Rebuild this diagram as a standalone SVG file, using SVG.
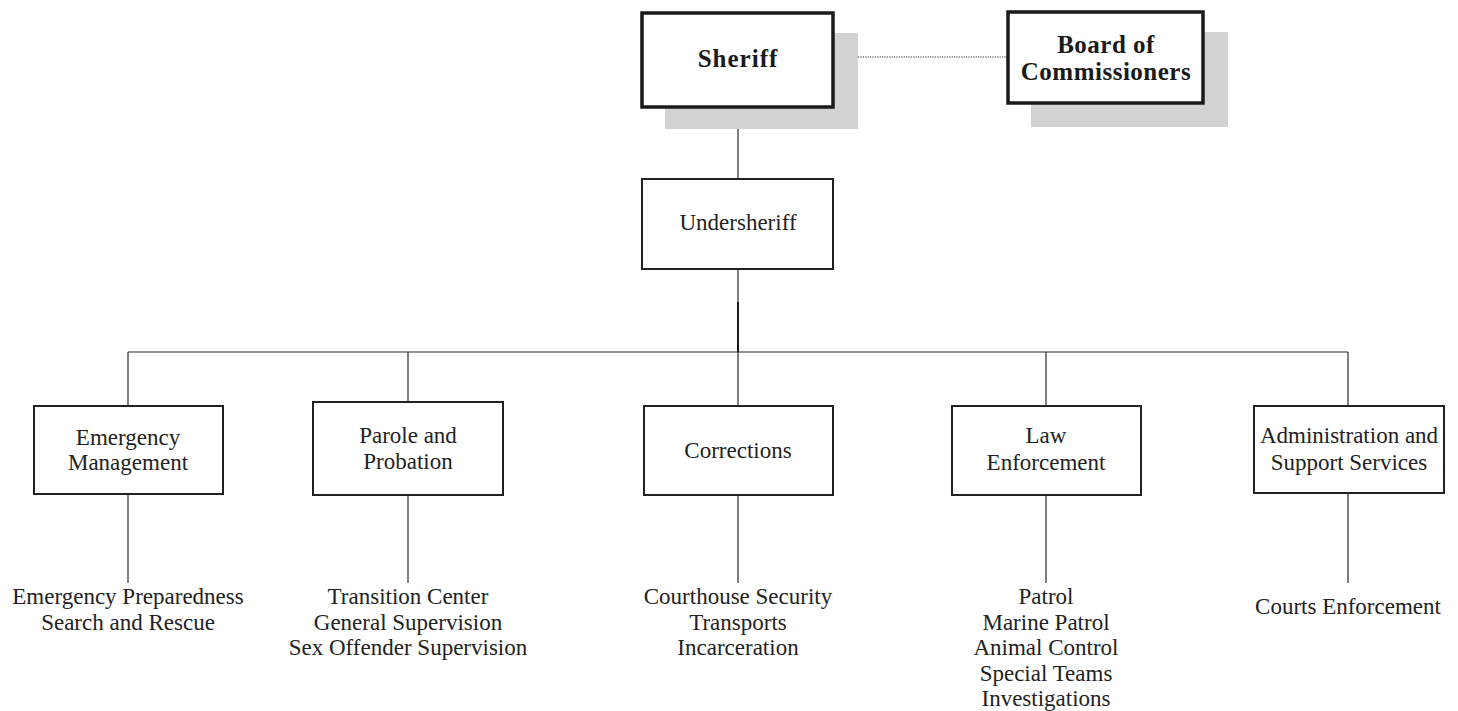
<svg xmlns="http://www.w3.org/2000/svg" width="1458" height="711" viewBox="0 0 1458 711">
<style>
.shadow{fill:#d1d2d4;stroke:none}
.top{fill:#fff;stroke:#1a1a1a;stroke-width:3.5}
.box{fill:#fff;stroke:#222;stroke-width:2}
.ln{stroke:#2a2a2a;stroke-width:1.2;fill:none}
.tb{font-family:"Liberation Serif","Times New Roman",serif;font-weight:bold;font-size:25px;fill:#1a1a1a;text-anchor:middle}
.t{font-family:"Liberation Serif","Times New Roman",serif;font-size:23px;fill:#222;text-anchor:middle}
</style>
<rect width="1458" height="711" fill="#fff"/>
<g id="connectors">
<line class="ln" x1="858" y1="57" x2="1008" y2="57" stroke-dasharray="1.2 1.2"/>
<line class="ln" x1="738" y1="107" x2="738" y2="179"/>
<line class="ln" x1="738" y1="269" x2="738" y2="302"/>
<line x1="738" y1="302" x2="738" y2="352" stroke="#1a1a1a" stroke-width="2"/>
<line class="ln" x1="128" y1="352" x2="1348" y2="352"/>
<line class="ln" x1="128" y1="352" x2="128" y2="406"/>
<line class="ln" x1="408" y1="352" x2="408" y2="402"/>
<line class="ln" x1="738" y1="352" x2="738" y2="406"/>
<line class="ln" x1="1046" y1="352" x2="1046" y2="406"/>
<line class="ln" x1="1348" y1="352" x2="1348" y2="406"/>
<line class="ln" x1="128" y1="494" x2="128" y2="583"/>
<line class="ln" x1="408" y1="495" x2="408" y2="583"/>
<line class="ln" x1="738" y1="495" x2="738" y2="583"/>
<line class="ln" x1="1046" y1="495" x2="1046" y2="583"/>
<line class="ln" x1="1348" y1="493" x2="1348" y2="583"/>
</g>
<g id="sheriff">
<rect class="shadow" x="665" y="33" width="193" height="96"/>
<rect class="top" x="642" y="13" width="191" height="94"/>
<text class="tb" x="738" y="67" letter-spacing="1">Sheriff</text>
</g>
<g id="board">
<rect class="shadow" x="1031" y="32" width="197" height="95"/>
<rect class="top" x="1008" y="12" width="195" height="91"/>
<text class="tb" x="1106" y="53" letter-spacing="0.5">Board of</text>
<text class="tb" x="1106" y="80" letter-spacing="0.5">Commissioners</text>
</g>
<g id="undersheriff">
<rect class="box" x="642" y="179" width="191" height="90"/>
<text class="t" x="738" y="230">Undersheriff</text>
</g>
<g id="emergency">
<rect class="box" x="34" y="406" width="189" height="88"/>
<text class="t" x="128" y="445">Emergency</text>
<text class="t" x="128" y="470">Management</text>
<text class="t" x="128" y="604">Emergency Preparedness</text>
<text class="t" x="128" y="629.5">Search and Rescue</text>
</g>
<g id="parole">
<rect class="box" x="313" y="402" width="190" height="93"/>
<text class="t" x="408" y="443">Parole and</text>
<text class="t" x="408" y="469">Probation</text>
<text class="t" x="408" y="604">Transition Center</text>
<text class="t" x="408" y="629.5">General Supervision</text>
<text class="t" x="408" y="655">Sex Offender Supervision</text>
</g>
<g id="corrections">
<rect class="box" x="644" y="406" width="189" height="89"/>
<text class="t" x="738" y="458">Corrections</text>
<text class="t" x="738" y="604">Courthouse Security</text>
<text class="t" x="738" y="629.5">Transports</text>
<text class="t" x="738" y="655">Incarceration</text>
</g>
<g id="law">
<rect class="box" x="952" y="406" width="189" height="89"/>
<text class="t" x="1046" y="443">Law</text>
<text class="t" x="1046" y="470">Enforcement</text>
<text class="t" x="1046" y="604">Patrol</text>
<text class="t" x="1046" y="629.5">Marine Patrol</text>
<text class="t" x="1046" y="655">Animal Control</text>
<text class="t" x="1046" y="680.5">Special Teams</text>
<text class="t" x="1046" y="706">Investigations</text>
</g>
<g id="admin">
<rect class="box" x="1254" y="406" width="190" height="87"/>
<text class="t" x="1349" y="443">Administration and</text>
<text class="t" x="1349" y="470">Support Services</text>
<text class="t" x="1348" y="614">Courts Enforcement</text>
</g>
</svg>
